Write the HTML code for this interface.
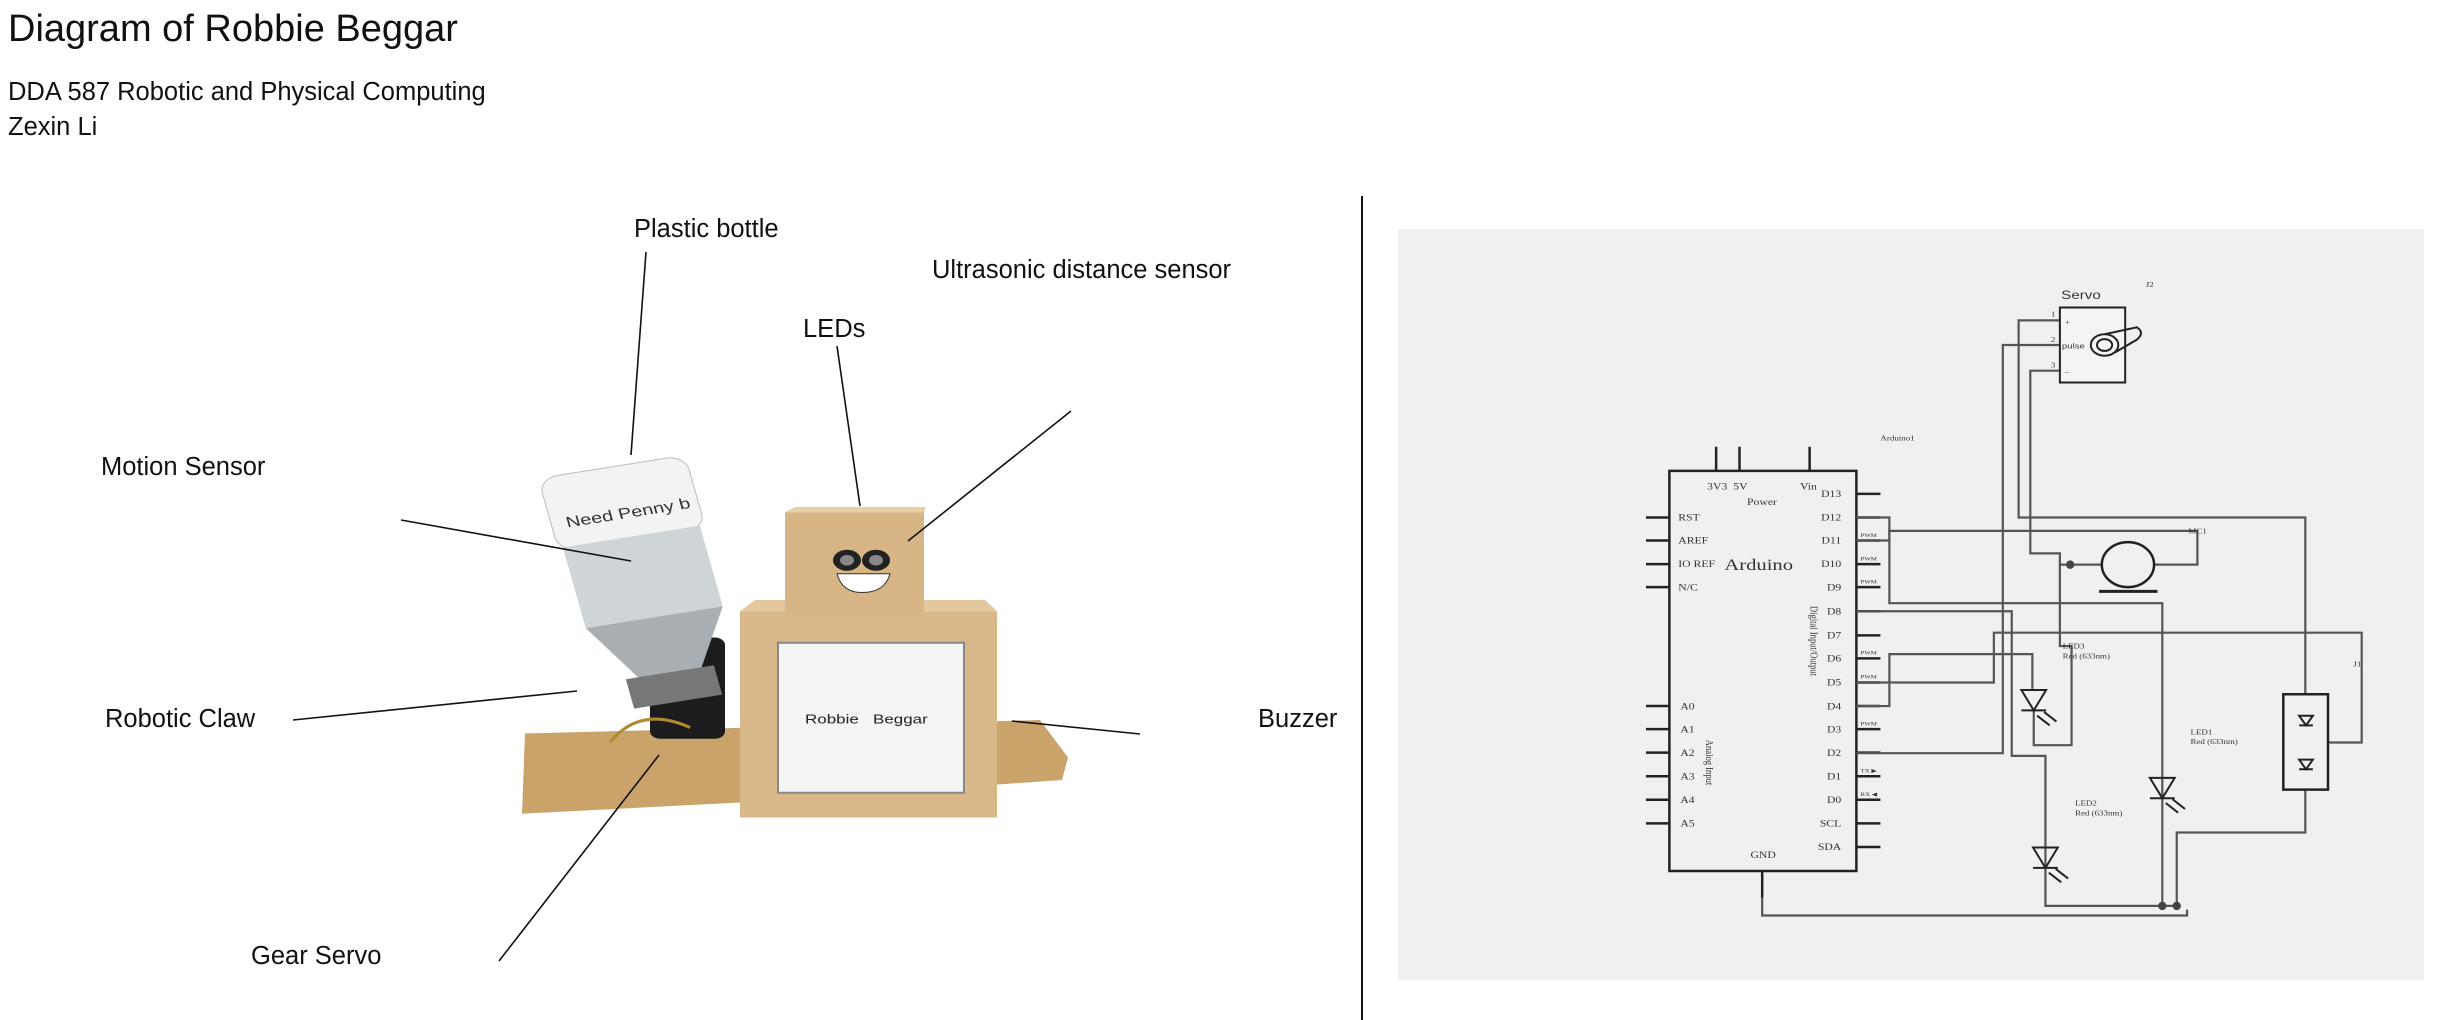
<!DOCTYPE html>
<html><head><meta charset="utf-8"><style>
html,body{margin:0;padding:0;background:#fff;}
body{width:2438px;height:1020px;position:relative;overflow:hidden;font-family:"Liberation Sans",sans-serif;color:#111;}
.t{position:absolute;white-space:nowrap;}
.l{font-size:25.5px;}
svg *{vector-effect:non-scaling-stroke;}
</style></head><body>
<div class="t" style="left:8px;top:8px;font-size:38px;">Diagram of Robbie Beggar</div>
<div class="t" style="left:8px;top:78px;font-size:25.5px;">DDA 587 Robotic and Physical Computing</div>
<div class="t" style="left:8px;top:113px;font-size:25.5px;">Zexin Li</div>
<div class="t l" style="left:634px;top:215px;">Plastic bottle</div>
<div class="t l" style="left:932px;top:256px;">Ultrasonic distance sensor</div>
<div class="t l" style="left:803px;top:315px;">LEDs</div>
<div class="t l" style="left:101px;top:453px;">Motion Sensor</div>
<div class="t l" style="left:105px;top:705px;">Robotic Claw</div>
<div class="t l" style="left:1258px;top:705px;">Buzzer</div>
<div class="t l" style="left:251px;top:942px;">Gear Servo</div>

<svg width="2438" height="1020" style="position:absolute;left:0;top:0" xmlns="http://www.w3.org/2000/svg">
<!-- photo -->
<g transform="matrix(1,0,0,0.75,0,0)">
<polygon points="525,978 1040,960 1068,1010 1062,1040 740,1070 522,1085" fill="#c9a36a"/>
<rect x="740" y="815" width="257" height="275" fill="#d8b889"/>
<polygon points="740,815 997,815 985,800 755,800" fill="#e2c89c"/>
<rect x="778" y="857" width="186" height="200" fill="#f4f4f4" stroke="#888" stroke-width="2"/>
<text x="805" y="965" font-family="Liberation Sans,sans-serif" font-size="17" fill="#222">Robbie&#160;&#160;&#160;Beggar</text>
<rect x="785" y="683" width="139" height="138" fill="#d7b585"/>
<polygon points="785,683 924,683 926,676 795,676" fill="#e8d0a5"/>
<circle cx="847" cy="747" r="14" fill="#222"/><circle cx="876" cy="747" r="14" fill="#222"/>
<circle cx="847" cy="747" r="7" fill="#888"/><circle cx="876" cy="747" r="7" fill="#888"/>
<path d="M837,765 H890 Q885,790 862,790 Q842,790 837,765Z" fill="#fff" stroke="#333"/>
<rect x="650" y="850" width="75" height="135" rx="10" fill="#1c1c1c"/>
<path d="M610,990 Q640,940 690,970" stroke="#b08a30" stroke-width="3" fill="none"/>
<g transform="rotate(-12 640 780)">
<rect x="570" y="620" width="150" height="100" rx="20" fill="#f3f3f3" stroke="#bbb"/>
<rect x="575" y="715" width="140" height="110" fill="#cfd4d6"/>
<polygon points="575,825 715,825 675,905 615,905" fill="#a9aeb2"/>
<rect x="600" y="900" width="90" height="40" fill="#777"/>
<text x="585" y="690" font-family="Liberation Sans,sans-serif" font-size="20" fill="#333">Need Penny b</text>
</g>
</g>
<g stroke="#111" stroke-width="1.6">
<line x1="646" y1="252" x2="631" y2="455"/>
<line x1="837" y1="346" x2="860" y2="506"/>
<line x1="1071" y1="411" x2="908" y2="541"/>
<line x1="401" y1="520" x2="631" y2="561"/>
<line x1="293" y1="720" x2="577" y2="691"/>
<line x1="1012" y1="721" x2="1140" y2="734"/>
<line x1="499" y1="961" x2="659" y2="755"/>
<line x1="1362" y1="196" x2="1362" y2="1020" stroke-width="2"/>
</g>

<!-- schematic -->
<rect x="1398" y="229" width="1026" height="751" fill="#f0f0f0"/>
<g transform="translate(1360,180) scale(0.6875,0.5357)" font-family="Liberation Serif,serif" fill="none">
<g stroke="#222" stroke-width="2.5">
<rect x="450" y="543" width="272" height="747"/>
<path d="M518,498V543M552,498V543M654,498V543"/>
<path d="M416,630H450M416,673H450M416,717H450M416,760H450M416,982H450M416,1025H450M416,1069H450M416,1113H450M416,1157H450M416,1201H450"/>
<path d="M722,586H757M722,630H757M722,673H757M722,717H757M722,760H757M722,805H757M722,850H757M722,893H757M722,938H757M722,982H757M722,1025H757M722,1069H757M722,1113H757M722,1157H757M722,1201H757M722,1245H757"/>
<path d="M585,1290V1340"/>
</g>
<g stroke="#555" stroke-width="2.2">
<path d="M1018,262H958V630H1375V960"/>
<path d="M1018,308H935V1070H722"/>
<path d="M1018,356H975V697H1018V718H1079"/>
<path d="M1018,718V870H1035V1055H980V990"/>
<path d="M1155,718H1218V655H770V673H722"/>
<path d="M722,630H770V790H1167V1355"/>
<path d="M722,805H948V1075H997V1355H1190"/>
<path d="M722,982H770V885H978V950"/>
<path d="M722,938H922V845H1457V1050H1408"/>
<path d="M1375,1138V1218H1188V1355"/>
<path d="M585,1340V1373H1203V1362"/>
</g>
<g fill="#444"><ellipse cx="1033" cy="718" rx="6" ry="8"/><ellipse cx="1167" cy="1355" rx="6" ry="8"/><ellipse cx="1188" cy="1355" rx="6" ry="8"/></g>
<g stroke="#222" stroke-width="2">
<rect x="1018" y="238" width="95" height="140" fill="#f4f4f4"/>
<circle cx="1083" cy="308" r="20"/><circle cx="1083" cy="308" r="11"/>
<path d="M1083,288L1130,275Q1142,285 1130,298L1098,322"/>
<ellipse cx="1117" cy="718" rx="38" ry="42" stroke-width="2.5"/>
<path d="M1075,768H1160" stroke-width="3"/>
<rect x="1343" y="960" width="65" height="178" stroke-width="2.5"/>
</g>
<g stroke="#222" stroke-width="2">
<path d="M962,952H998L980,990Z M962,990H998 M985,1000l18,18 M995,993l18,18"/>
<path d="M1149,1116H1185L1167,1154Z M1149,1154H1185 M1172,1163l18,18 M1182,1156l18,18"/>
<path d="M979,1246H1015L997,1284Z M979,1284H1015 M1002,1293l18,18 M1012,1286l18,18"/>
<path d="M1366,1000H1386L1376,1018Z M1366,1018H1386 M1366,1082H1386L1376,1100Z M1366,1100H1386"/>
</g>
<g fill="#333" font-size="17">
<text x="1020" y="222" font-family="Liberation Sans,sans-serif" font-size="22">Servo</text>
<text x="1143" y="200" font-size="13">J2</text>
<text x="1005" y="255" font-size="13">1</text><text x="1005" y="302" font-size="13">2</text><text x="1005" y="350" font-size="13">3</text>
<text x="1025" y="270" font-size="14">+</text><text x="1021" y="315" font-size="14" font-family="Liberation Sans,sans-serif">pulse</text><text x="1025" y="362" font-size="14">–</text>
<text x="757" y="486" font-size="13">Arduino1</text>
<text x="505" y="578">3V3</text><text x="543" y="578">5V</text><text x="640" y="578">Vin</text>
<text x="563" y="607">Power</text>
<text x="530" y="728" font-size="30">Arduino</text>
<text x="463" y="636">RST</text><text x="463" y="679">AREF</text><text x="463" y="722">IO REF</text><text x="463" y="766">N/C</text>
<text x="466" y="988">A0</text><text x="466" y="1031">A1</text><text x="466" y="1075">A2</text><text x="466" y="1119">A3</text><text x="466" y="1163">A4</text><text x="466" y="1207">A5</text>
<g text-anchor="end">
<text x="700" y="592">D13</text><text x="700" y="636">D12</text><text x="700" y="679">D11</text><text x="700" y="722">D10</text><text x="700" y="766">D9</text><text x="700" y="811">D8</text><text x="700" y="856">D7</text><text x="700" y="899">D6</text><text x="700" y="944">D5</text><text x="700" y="988">D4</text><text x="700" y="1031">D3</text><text x="700" y="1075">D2</text><text x="700" y="1119">D1</text><text x="700" y="1163">D0</text><text x="700" y="1207">SCL</text><text x="700" y="1251">SDA</text>
</g>
<g font-size="10"><text x="728" y="666">PWM</text><text x="728" y="710">PWM</text><text x="728" y="753">PWM</text><text x="728" y="886">PWM</text><text x="728" y="931">PWM</text><text x="728" y="1018">PWM</text><text x="728" y="1106">TX ▶</text><text x="728" y="1150">RX ◀</text></g>
<text x="568" y="1266">GND</text>
<text transform="translate(655,795) rotate(90)" font-size="16">Digital Input/Output</text>
<text transform="translate(503,1045) rotate(90)" font-size="16">Analog Input</text>
<text x="1205" y="660" font-size="13">MC1</text>
<text x="1022" y="875" font-size="13">LED3</text><text x="1022" y="893" font-size="13">Red (633nm)</text>
<text x="1040" y="1168" font-size="13">LED2</text><text x="1040" y="1186" font-size="13">Red (633nm)</text>
<text x="1208" y="1035" font-size="13">LED1</text><text x="1208" y="1053" font-size="13">Red (633nm)</text>
<text x="1445" y="908" font-size="13">J1</text>
</g>
</g>
</svg>
</body></html>
